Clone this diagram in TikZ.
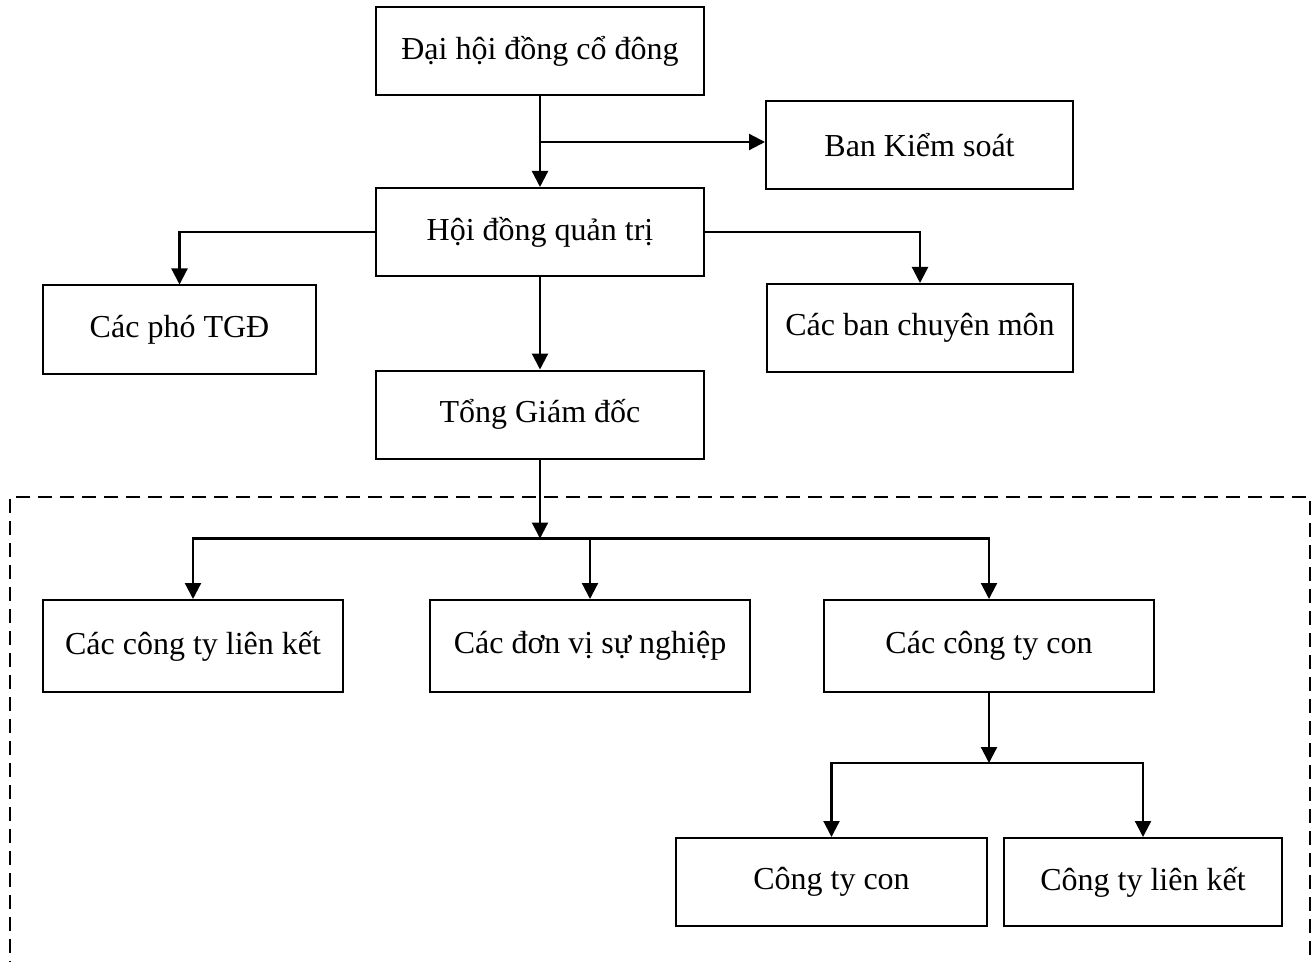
\documentclass[tikz,border=0pt]{standalone}
\usepackage{fontspec}
\setmainfont{Liberation Serif}
\usetikzlibrary{positioning,arrows.meta,calc}
\tikzset{
  basic/.style = {draw, line width=1pt, rectangle, align=center,
                  font=\fontsize{16}{19}\selectfont, inner sep=0pt},
  unit/.style  = {basic, minimum height=44pt},
  link/.style  = {draw, line width=1.1pt, -{Triangle[length=8pt,width=8pt]}},
  frame/.style = {draw, line width=1pt, dash pattern=on 7pt off 4pt}
}
\begin{document}
\begin{tikzpicture}[x=0.5pt, y=-0.5pt]
\useasboundingbox (0,0) rectangle (1315,962);

\node[unit, minimum width=164pt] (dhdcd) at (540,51.5) {Đại hội đồng cổ đông};
\node[unit, minimum width=153.5pt] (bks) at (919.5,145) {Ban Kiểm soát};
\node[unit, minimum width=164pt] (hdqt) at (540,232) {Hội đồng quản trị};
\node[unit, minimum width=136.5pt] (pho) at (179.5,329.5) {Các phó TGĐ};
\node[unit, minimum width=153pt] (ban) at (920,328) {Các ban chuyên môn};
\node[unit, minimum width=164pt] (tgd) at (540,414.5) {Tổng Giám đốc};
\node[unit, minimum width=150pt, minimum height=46pt] (cclk) at (193,646) {Các công ty liên kết};
\node[unit, minimum width=160pt, minimum height=46pt] (dvsn) at (590,646) {Các đơn vị sự nghiệp};
\node[unit, minimum width=165pt, minimum height=46pt] (ccc) at (989,646) {Các công ty con};
\node[unit, minimum width=155.5pt] (ctc) at (831.5,882) {Công ty con};
\node[unit, minimum width=139pt] (ctlk) at (1143,882) {Công ty liên kết};

%\node[frame, fit=...] (khoi) {};
\draw[frame] (10,975) -- (10,497) -- (1310,497) -- (1310,975);

\coordinate (s0) at ($(dhdcd.south |- bks.west)+(0,-3)$);
\coordinate (s1) at ($(tgd.south)+(0,79)$);
\coordinate (s2) at ($(ccc.south)+(0,70)$);

\path [link] (dhdcd) -- (hdqt);
\path [link] (s0) -- (s0 -| bks.west);

\path [link] (hdqt.west) -| (pho.north);
\path [link] (hdqt.east) -| (ban.north);
\path [link] (hdqt) -- (tgd);

\path [link] (tgd) -- (s1);
\path [link] (s1) -| (cclk.north);
\path [link] (s1 -| dvsn.north) -- (dvsn.north);
\path [link] (s1) -| (ccc.north);

\path [link] (ccc) -- (s2);
\path [link] (s2) -| (ctc.north);
\path [link] (s2) -| (ctlk.north);

\end{tikzpicture}
\end{document}
